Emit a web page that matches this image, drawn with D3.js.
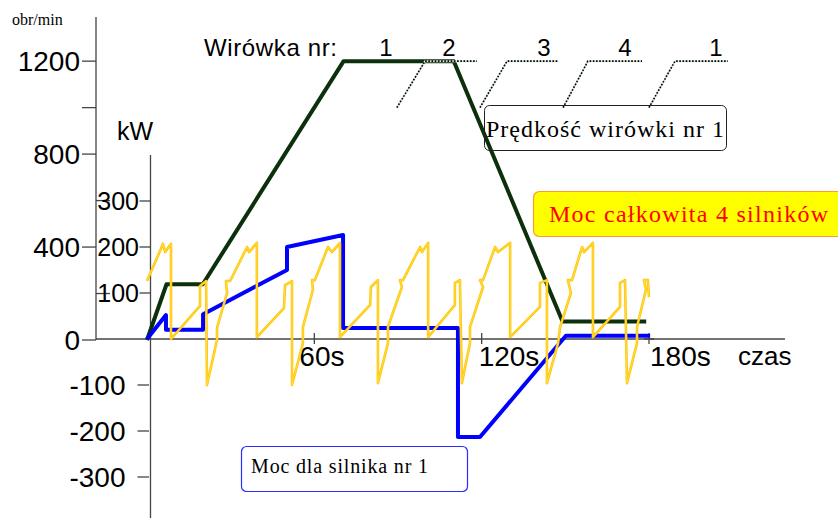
<!DOCTYPE html>
<html>
<head>
<meta charset="utf-8">
<script src="https://cdn.jsdelivr.net/npm/d3@7/dist/d3.min.js"></script>
<style>
  html, body { margin: 0; padding: 0; background: #fff; }
  svg { display: block; }
  .sans { font-family: "Liberation Sans", Arial, sans-serif; }
  .serif { font-family: "Liberation Serif", "Times New Roman", serif; }
</style>
</head>
<body>
<svg id="chart" width="838" height="518"></svg>
<script>
// Centrifuge speed (obr/min) over time (s)
const speedSeries = [[0, 0], [7, 240], [20, 240], [70.5, 1200], [110, 1200], [149, 80], [179, 80]];

// Power of motor no. 1 (kW) over time (s)
const motor1Power = [
  [0, 0], [6.8, 52], [6.8, 20], [20.1, 20], [20.1, 54], [50.2, 150], [50.2, 200],
  [70.3, 226], [70.3, 24], [111.5, 24], [111.5, -213], [119.4, -213], [150.2, 7], [180.4, 7]
];

// Total power of the 4 motors (kW) over time (s)
const totalPower = [
  [0, 126], [5.0, 196], [5.7, 207], [6.5, 189], [8.6, 207], [8.6, 0],
  [19.0, 72], [19.0, 115], [21.2, 126], [21.5, -100], [25.1, -2], [25.1, 24], [28.7, 100],
  [28.3, 126], [29.8, 126], [35.9, 200], [36.6, 189], [39.4, 209], [39.4, 4],
  [49.1, 67], [49.5, 117], [52.0, 126], [52.0, -100], [55.9, -9], [55.9, 26], [59.5, 107],
  [59.2, 128], [60.2, 128], [64.9, 200], [66.3, 189], [69.2, 209], [69.2, 4],
  [80.0, 74], [80.3, 113], [82.8, 128], [82.8, -96], [86.4, -9], [86.4, 26], [91.4, 113],
  [90.7, 128], [91.8, 128], [97.9, 200], [98.6, 189], [100.8, 209], [100.8, 4],
  [110.4, 74], [110.4, 122], [112.2, 128], [112.9, -96], [115.8, -9], [115.8, 26], [120.5, 113],
  [119.4, 128], [120.5, 128], [124.8, 200], [125.9, 189], [130.2, 209], [130.2, 4],
  [140.9, 70], [140.9, 122], [143.4, 128], [143.4, -96], [147.4, -9], [148.1, 26], [152.0, 100],
  [150.9, 128], [152.4, 128], [156.0, 200], [156.7, 189], [159.9, 209], [159.9, 4],
  [169.6, 70], [169.6, 122], [171.4, 128], [172.1, -96], [175.7, -9], [175.7, 26], [178.9, 107],
  [178.2, 128], [179.6, 128], [180.0, 91]
];

// Axis ticks
const rpmLabelled = [0, 400, 800, 1200];
const rpmMinor = [1000];
const rpmInner = [200, 600];
const kwTicks = [300, 200, 100, -100, -200, -300];
const timeTicks = [60, 120, 180];
const timeLabels = ["60s", "120s", "180s"];

// Centrifuge numbering along the top (label, position in s) and leader lines
const centrifugeNames = ["1", "2", "3", "4", "1"];
const centrifugeAt = [85.7, 108.3, 142.3, 171.4, 204];
const leaders = [
  [[89.6, 1000], [99.7, 1200], [118.3, 1200]],
  [[119.4, 1000], [129.1, 1200], [147.4, 1200]],
  [[149.2, 1000], [158.1, 1200], [177.5, 1200]],
  [[180, 1000], [189.3, 1200], [208.3, 1200]]
];

const svg = d3.select("#chart");

const x = d3.scaleLinear().domain([0, 180]).range([147, 649]);
const yRpm = d3.scaleLinear().domain([0, 1390]).range([340, 17]);
const yKw = d3.scaleLinear().domain([-390, 400]).range([518.4, 155]);

const axisColor = "#444";

// Speed axis (left)
const rpmX = 96;
const rpmAxis = svg.append("g").attr("transform", `translate(${rpmX},0)`).attr("class", "sans");
rpmAxis.append("line").attr("x1", 0).attr("x2", 0).attr("y1", yRpm(0)).attr("y2", yRpm(1390))
  .attr("stroke", axisColor).attr("stroke-width", 1.3);
rpmAxis.selectAll("line.t").data(rpmLabelled.concat(rpmMinor)).join("line")
  .attr("x1", -14).attr("x2", 0).attr("y1", d => yRpm(d)).attr("y2", d => yRpm(d))
  .attr("stroke", axisColor).attr("stroke-width", 1.3);
rpmAxis.selectAll("line.i").data(rpmInner).join("line")
  .attr("x1", 0).attr("x2", 14).attr("y1", d => yRpm(d)).attr("y2", d => yRpm(d))
  .attr("stroke", axisColor).attr("stroke-width", 1.3);
rpmAxis.selectAll("text").data(rpmLabelled).join("text")
  .attr("x", -16).attr("y", d => yRpm(d)).attr("dy", "0.36em")
  .attr("text-anchor", "end").attr("font-size", 28).attr("fill", "#000")
  .text(d => d);

svg.append("text").attr("class", "serif").attr("x", 12).attr("y", 25)
  .attr("font-size", 16).attr("fill", "#000").text("obr/min");

// Power axis
const kwX = 150.5;
const kwAxis = svg.append("g").attr("transform", `translate(${kwX},0)`).attr("class", "sans");
kwAxis.append("line").attr("x1", 0).attr("x2", 0).attr("y1", yKw(400)).attr("y2", yKw(-390))
  .attr("stroke", axisColor).attr("stroke-width", 1.3);
kwAxis.selectAll("line.t").data(kwTicks).join("line")
  .attr("x1", d => d > 0 ? -11 : -13).attr("x2", d => d > 0 ? 0 : -1.5)
  .attr("y1", d => yKw(d)).attr("y2", d => yKw(d))
  .attr("stroke", axisColor).attr("stroke-width", 1.3);
kwAxis.selectAll("text").data(kwTicks).join("text")
  .attr("x", d => d > 0 ? -11.5 : -25).attr("y", d => yKw(d)).attr("dy", "0.36em")
  .attr("text-anchor", "end").attr("font-size", d => d > 0 ? 25 : 28).attr("fill", "#000")
  .text(d => d);

svg.append("text").attr("class", "sans").attr("x", 117).attr("y", 140)
  .attr("font-size", 25).attr("fill", "#000").text("kW");

// Time axis
const y0 = yKw(0);
svg.append("line").attr("x1", 96).attr("x2", 785).attr("y1", y0).attr("y2", y0)
  .attr("stroke", axisColor).attr("stroke-width", 1.3);
svg.selectAll("line.tt").data(timeTicks).join("line")
  .attr("x1", d => x(d)).attr("x2", d => x(d)).attr("y1", y0 - 6).attr("y2", y0 + 5)
  .attr("stroke", axisColor).attr("stroke-width", 1.3);
svg.append("line").attr("x1", x(180) - 5).attr("x2", x(180) + 5).attr("y1", y0).attr("y2", y0)
  .attr("stroke", axisColor).attr("stroke-width", 1.5);
const timeLabelShift = [-15, -3, 1];
svg.selectAll("text.tl").data(timeTicks).join("text")
  .attr("class", "sans")
  .attr("x", (d, i) => x(d) + timeLabelShift[i]).attr("y", y0 + 27)
  .attr("font-size", 28).attr("fill", "#000")
  .text((d, i) => timeLabels[i]);
svg.append("text").attr("class", "sans").attr("x", 738).attr("y", y0 + 26)
  .attr("font-size", 26).attr("fill", "#000").text("czas");

// Series
const speedLine = d3.line().x(d => x(d[0])).y(d => yRpm(d[1]));
const powerLine = d3.line().x(d => x(d[0])).y(d => yKw(d[1]));

svg.append("path").datum(speedSeries).attr("d", speedLine)
  .attr("fill", "none").attr("stroke", "#0b300b").attr("stroke-width", 4)
  .attr("stroke-linejoin", "round");

svg.append("path").datum(motor1Power).attr("d", powerLine)
  .attr("fill", "none").attr("stroke", "#0000ff").attr("stroke-width", 4)
  .attr("stroke-linejoin", "round");

// total power: gold stroke with a pale core
svg.append("path").datum(totalPower).attr("d", powerLine)
  .attr("fill", "none").attr("stroke", "#ffc800").attr("stroke-width", 2.6)
  .attr("stroke-linejoin", "round");
svg.append("path").datum(totalPower).attr("d", powerLine)
  .attr("fill", "none").attr("stroke", "#ffe680").attr("stroke-width", 0.6)
  .attr("stroke-linejoin", "round");

// Centrifuge numbering
svg.append("text").attr("class", "sans").attr("x", 204).attr("y", 56)
  .attr("font-size", 24).attr("fill", "#000").attr("textLength", 133)
  .text("Wirówka nr:");
svg.selectAll("text.cn").data(centrifugeNames).join("text")
  .attr("class", "sans").attr("x", (d, i) => x(centrifugeAt[i])).attr("y", 56)
  .attr("text-anchor", "middle").attr("font-size", 24).attr("fill", "#000")
  .text(d => d);

const leaderLine = d3.line().x(d => x(d[0])).y(d => yRpm(d[1]));
svg.selectAll("path.lu").data(leaders).join("path")
  .attr("d", leaderLine).attr("fill", "none").attr("stroke", "#d8e8d8").attr("stroke-width", 2);
svg.selectAll("path.ld").data(leaders).join("path")
  .attr("d", leaderLine).attr("fill", "none").attr("stroke", "#000")
  .attr("stroke-width", 1.6).attr("stroke-dasharray", "1.6,1.6");

// Annotation boxes
svg.append("rect").attr("x", 484.5).attr("y", 105.5).attr("width", 242).attr("height", 45)
  .attr("rx", 5).attr("fill", "none").attr("stroke", "#222").attr("stroke-width", 1);
svg.append("text").attr("class", "serif").attr("x", 486).attr("y", 137)
  .attr("font-size", 24).attr("fill", "#000").attr("textLength", 238)
  .text("Prędkość wirówki nr 1");

svg.append("rect").attr("x", 533.5).attr("y", 191.5).attr("width", 310).attr("height", 45)
  .attr("rx", 6).attr("fill", "#ffff00").attr("stroke", "#ff9a33").attr("stroke-width", 1.2);
svg.append("text").attr("class", "serif").attr("x", 549).attr("y", 222)
  .attr("font-size", 24).attr("fill", "#ff0000").attr("textLength", 279)
  .text("Moc całkowita 4 silników");

svg.append("rect").attr("x", 241.5).attr("y", 446.5).attr("width", 226).attr("height", 45)
  .attr("rx", 5).attr("fill", "#fff").attr("stroke", "#2b2bff").attr("stroke-width", 1.2);
svg.append("text").attr("class", "serif").attr("x", 251).attr("y", 473)
  .attr("font-size", 20).attr("fill", "#000").attr("textLength", 177)
  .text("Moc dla silnika nr 1");
</script>
</body>
</html>
